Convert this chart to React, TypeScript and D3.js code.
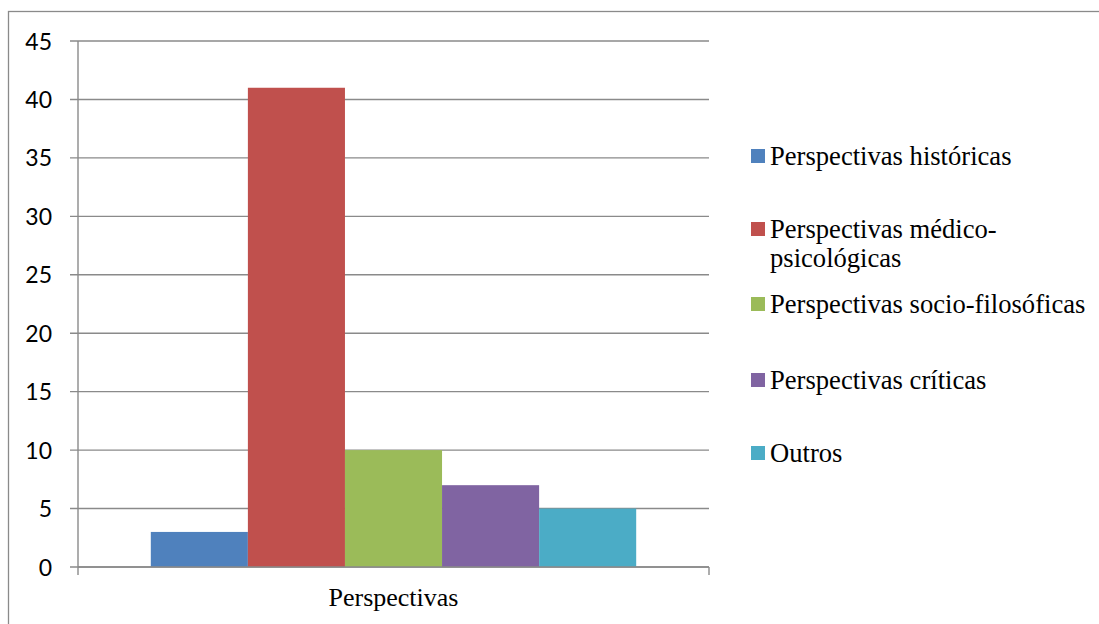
import React from "react";
import * as d3 from "d3";

// Categories and series
const categories = ["Perspectivas"];
const seriesNames = [
  "Perspectivas históricas",
  "Perspectivas médico-psicológicas",
  "Perspectivas socio-filosóficas",
  "Perspectivas críticas",
  "Outros",
];
const seriesValues = [3, 41, 10, 7, 5];
const seriesColors = ["#4F81BD", "#C0504D", "#9BBB59", "#8064A2", "#4BACC6"];
const yTicks = [0, 5, 10, 15, 20, 25, 30, 35, 40, 45];
// Legend labels split into wrapped lines
const legendLines = [
  ["Perspectivas históricas"],
  ["Perspectivas médico-", "psicológicas"],
  ["Perspectivas socio-filosóficas"],
  ["Perspectivas críticas"],
  ["Outros"],
];

const W = 1099;
const H = 624;
const plot = { left: 78, right: 709, top: 41, bottom: 567 };
const gridColor = "#8a8a8a";
const serif = "'Liberation Serif', 'Times New Roman', serif";
const sans = "Lato, 'Open Sans', sans-serif";

export default function App() {
  const y = d3.scaleLinear().domain([0, 45]).range([plot.bottom, plot.top]);
  const x0 = d3
    .scaleBand<string>()
    .domain(categories)
    .range([plot.left, plot.right])
    .padding(0);
  const gapRatio = 1.5; // gap width relative to bar width
  const n = seriesNames.length;
  const band = x0.bandwidth();
  const cluster = (band * n) / (n + gapRatio);
  const x1 = d3
    .scaleBand<string>()
    .domain(seriesNames)
    .range([(band - cluster) / 2, (band + cluster) / 2])
    .padding(0);

  // Legend baselines (the second entry wraps onto two lines)
  const legendBaselines = [165, 238, 313, 389, 462];
  const lineGap = 29;

  return (
    <div style={{ position: "absolute", left: 0, top: 0 }}>
      <svg width={W} height={H} style={{ display: "block" }}>
        <rect x={0} y={0} width={W} height={H} fill="#fff" />
        {/* outer frame */}
        <rect
          x={8.5}
          y={11.5}
          width={W + 20}
          height={H + 20}
          fill="none"
          stroke={gridColor}
          strokeWidth={1.3}
        />
        {/* gridlines and y ticks */}
        {yTicks.map((t) => (
          <g key={t}>
            <line
              x1={plot.left - 8}
              x2={plot.right}
              y1={y(t)}
              y2={y(t)}
              stroke={gridColor}
              strokeWidth={1.4}
            />
            <text
              x={52}
              y={y(t)}
              dy={8.5}
              textAnchor="end"
              fontFamily={sans}
              fontSize={23}
              fill="#000"
            >
              {t}
            </text>
          </g>
        ))}
        {/* bars */}
        {categories.map((c) => (
          <g key={c} transform={`translate(${x0(c)},0)`}>
            {seriesNames.map((s, i) => (
              <rect
                key={s}
                x={x1(s)}
                y={y(seriesValues[i])}
                width={x1.bandwidth()}
                height={y(0) - y(seriesValues[i])}
                fill={seriesColors[i]}
              />
            ))}
          </g>
        ))}
        {/* axes */}
        <line
          x1={plot.left}
          x2={plot.left}
          y1={plot.top}
          y2={plot.bottom + 8}
          stroke={gridColor}
          strokeWidth={1.4}
        />
        <line
          x1={plot.left}
          x2={plot.right}
          y1={plot.bottom}
          y2={plot.bottom}
          stroke={gridColor}
          strokeWidth={1.4}
        />
        <line
          x1={plot.right}
          x2={plot.right}
          y1={plot.bottom}
          y2={plot.bottom + 8}
          stroke={gridColor}
          strokeWidth={1.4}
        />
        {categories.map((c) => (
          <text
            key={c}
            x={(x0(c) as number) + band / 2}
            y={606}
            textAnchor="middle"
            fontFamily={serif}
            fontSize={26}
            fill="#000"
          >
            {c}
          </text>
        ))}
        {/* legend */}
        {seriesNames.map((s, i) => (
          <g key={s}>
            <rect
              x={751}
              y={legendBaselines[i] - 16}
              width={14}
              height={14}
              fill={seriesColors[i]}
            />
            <text fontFamily={serif} fontSize={26.6} fill="#000">
              {legendLines[i].map((ln, j) => (
                <tspan key={j} x={770} y={legendBaselines[i] + j * lineGap}>
                  {ln}
                </tspan>
              ))}
            </text>
          </g>
        ))}
      </svg>
    </div>
  );
}
